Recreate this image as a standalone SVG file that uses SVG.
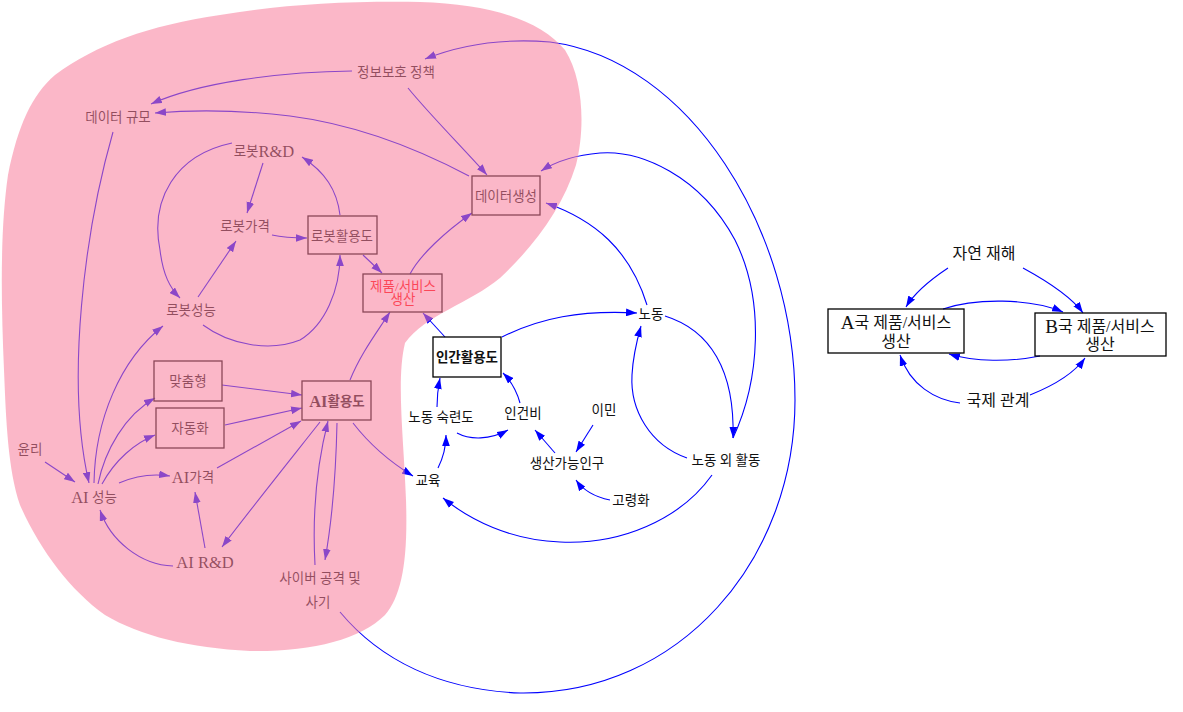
<svg xmlns="http://www.w3.org/2000/svg" width="1183" height="712" viewBox="0 0 1183 712">
<defs>
<style>
text{font-family:"Liberation Serif","Noto Sans CJK KR",serif;font-size:13.5px;fill:#111;text-anchor:middle;dominant-baseline:central}
.big{font-size:16px}
.bold{font-weight:bold}
.red{fill:#ff0000}
.lat{font-size:16.5px}
.latb{font-size:19px}
.box{fill:none;stroke:#000;stroke-width:1.3}
.c{fill:none;stroke:#0000ff;stroke-width:1.1}
</style>
<marker id="a" viewBox="0 0 10 7" refX="10" refY="3.5" markerWidth="11" markerHeight="8" markerUnits="userSpaceOnUse" orient="auto">
<path d="M0,0 L10,3.5 L0,7 z" fill="#0000ff"/>
</marker>
</defs>
<rect width="1183" height="712" fill="#fff"/>
<g id="connectors">
<path class="c" marker-end="url(#a)" d="M352,71 C280,72 200,82 151,104"/>
<path class="c" marker-end="url(#a)" d="M469,176 C420,150 360,125 290,116 C240,110 190,110 155,113"/>
<path class="c" marker-end="url(#a)" d="M408,88 C430,115 465,150 487,175"/>
<path class="c" marker-end="url(#a)" d="M340,612 C380,660 440,690 520,693 C680,695 795,560 795,400 C795,230 690,60 550,42 C500,38 460,45 425,59"/>
<path class="c" marker-end="url(#a)" d="M113,132 C85,230 65,380 89,483"/>
<path class="c" marker-end="url(#a)" d="M263,163 L247,213"/>
<path class="c" marker-end="url(#a)" d="M272,235 C285,238 295,238 307,238"/>
<path class="c" marker-end="url(#a)" d="M340,215 C337,190 325,172 302,157"/>
<path class="c" marker-end="url(#a)" d="M232,143 C175,155 150,200 160,250 C163,275 170,288 180,298"/>
<path class="c" marker-end="url(#a)" d="M198,297 L236,241"/>
<path class="c" marker-end="url(#a)" d="M203,325 C230,345 270,352 300,340 C325,325 340,290 340,255"/>
<path class="c" marker-end="url(#a)" d="M363,255 L382,273"/>
<path class="c" marker-end="url(#a)" d="M94,483 C95,420 120,360 163,326"/>
<path class="c" marker-end="url(#a)" d="M98,484 C105,450 125,415 155,398"/>
<path class="c" marker-end="url(#a)" d="M102,484 C115,460 135,443 155,435"/>
<path class="c" marker-end="url(#a)" d="M119,483 C135,476 150,473 170,476"/>
<path class="c" marker-end="url(#a)" d="M45,462 L75,482"/>
<path class="c" marker-end="url(#a)" d="M173,566 C140,565 110,540 100,510"/>
<path class="c" marker-end="url(#a)" d="M205,548 L195,492"/>
<path class="c" marker-end="url(#a)" d="M217,468 L301,421"/>
<path class="c" marker-end="url(#a)" d="M222,385 L302,395"/>
<path class="c" marker-end="url(#a)" d="M225,425 L302,408"/>
<path class="c" marker-end="url(#a)" d="M320,422 C290,460 250,510 222,547"/>
<path class="c" marker-end="url(#a)" d="M315,565 C312,510 318,460 328,421"/>
<path class="c" marker-end="url(#a)" d="M337,423 C336,470 333,515 325,560"/>
<path class="c" marker-end="url(#a)" d="M353,423 C370,445 390,462 413,476"/>
<path class="c" marker-end="url(#a)" d="M350,380 C360,355 375,335 390,312"/>
<path class="c" marker-end="url(#a)" d="M410,274 C420,255 445,232 472,213"/>
<path class="c" marker-end="url(#a)" d="M445,337 L423,313"/>
<path class="c" marker-end="url(#a)" d="M502,337 C540,318 580,310 637,313"/>
<path class="c" marker-end="url(#a)" d="M647,305 C630,250 595,220 546,203"/>
<path class="c" marker-end="url(#a)" d="M733,438 C760,380 765,300 735,240 C700,175 640,150 600,153 C575,155 555,162 541,171"/>
<path class="c" marker-end="url(#a)" d="M665,316 C710,330 735,370 733,438"/>
<path class="c" marker-end="url(#a)" d="M687,458 C650,445 630,410 632,375 C633,355 637,340 641,326"/>
<path class="c" marker-end="url(#a)" d="M712,475 C680,520 620,545 560,542 C510,540 470,520 443,498"/>
<path class="c" marker-end="url(#a)" d="M438,468 C443,458 446,448 446,435"/>
<path class="c" marker-end="url(#a)" d="M437,407 C437,397 438,388 440,378"/>
<path class="c" marker-end="url(#a)" d="M457,433 C470,440 490,440 508,430"/>
<path class="c" marker-end="url(#a)" d="M520,403 C517,392 512,382 503,373"/>
<path class="c" marker-end="url(#a)" d="M555,453 L535,430"/>
<path class="c" marker-end="url(#a)" d="M593,425 L576,452"/>
<path class="c" marker-end="url(#a)" d="M610,500 C595,497 583,490 576,480"/>
<path class="c" marker-end="url(#a)" d="M948,268 C930,280 915,292 906,307"/>
<path class="c" marker-end="url(#a)" d="M1023,268 C1045,280 1070,295 1083,313"/>
<path class="c" marker-end="url(#a)" d="M943,309 C975,298 1030,298 1063,312"/>
<path class="c" marker-end="url(#a)" d="M1040,356 C1010,362 975,362 949,354"/>
<path class="c" marker-end="url(#a)" d="M960,403 C935,400 910,385 900,355"/>
<path class="c" marker-end="url(#a)" d="M1030,395 C1055,385 1075,372 1085,358"/>
</g>
<g id="n-privacy"><text x="396" y="72">정보보호 정책</text></g>
<g id="n-datascale"><text x="118" y="117">데이터 규모</text></g>
<g id="n-robotrd"><text x="264" y="151">로봇<tspan class="lat">R&amp;D</tspan></text></g>
<g id="n-datagen"><rect class="box" x="472" y="176" width="68" height="39"/><text x="506" y="196">데이터생성</text></g>
<g id="n-robotprice"><text x="245" y="226">로봇가격</text></g>
<g id="n-robotuse"><rect class="box" x="308" y="216" width="69" height="38"/><text x="342" y="236">로봇활용도</text></g>
<g id="n-product"><rect class="box" x="363" y="274" width="79" height="38"/><text class="red" x="403" y="286">제품/서비스</text><text class="red" x="403" y="299">생산</text></g>
<g id="n-robotperf"><text x="191" y="310">로봇성능</text></g>
<g id="n-custom"><rect class="box" x="154" y="361" width="68" height="40"/><text x="188" y="381">맞춤형</text></g>
<g id="n-auto"><rect class="box" x="156" y="408" width="68" height="40"/><text x="190" y="428">자동화</text></g>
<g id="n-aiuse"><rect class="box" x="302" y="381" width="69" height="39"/><text class="bold" x="337" y="401"><tspan class="lat">AI</tspan>활용도</text></g>
<g id="n-humanuse"><rect class="box" x="433" y="337" width="68" height="40"/><text class="bold" x="467" y="357">인간활용도</text></g>
<g id="n-labor"><text x="651" y="314">노동</text></g>
<g id="n-skill"><text x="441" y="417">노동 숙련도</text></g>
<g id="n-laborcost"><text x="523" y="413">인건비</text></g>
<g id="n-immig"><text x="604" y="410">이민</text></g>
<g id="n-workpop"><text x="567" y="463">생산가능인구</text></g>
<g id="n-ethics"><text x="30" y="449">윤리</text></g>
<g id="n-aiperf"><text x="94" y="497"><tspan class="lat">AI</tspan> 성능</text></g>
<g id="n-aiprice"><text x="193" y="477"><tspan class="lat">AI</tspan>가격</text></g>
<g id="n-edu"><text x="428" y="480">교육</text></g>
<g id="n-aging"><text x="631" y="500">고령화</text></g>
<g id="n-nonlabor"><text x="726" y="460">노동 외 활동</text></g>
<g id="n-aird"><text x="205" y="562" class="lat">AI R&amp;D</text></g>
<g id="n-cyber"><text x="320" y="578">사이버 공격 및</text><text x="318" y="602">사기</text></g>
<g id="n-disaster"><text class="big" x="984" y="253">자연 재해</text></g>
<g id="n-countryA"><rect class="box" x="828" y="309" width="136" height="44"/><text class="big" x="896" y="322"><tspan class="latb">A</tspan>국 제품/서비스</text><text class="big" x="896" y="341">생산</text></g>
<g id="n-countryB"><rect class="box" x="1035" y="313" width="131" height="43"/><text class="big" x="1100" y="326"><tspan class="latb">B</tspan>국 제품/서비스</text><text class="big" x="1100" y="344">생산</text></g>
<g id="n-intl"><text class="big" x="998" y="400">국제 관계</text></g>
<g id="highlight">
<path fill="#f87f9d" fill-opacity="0.56" d="M55,75 C95,45 150,25 220,15 C280,5 340,1 420,2 C490,4 540,20 565,50 C584,80 585,130 576,165 C562,210 532,248 500,278 C470,303 425,315 405,343 C396,380 404,440 406,500 C408,560 402,595 385,615 C360,640 310,652 250,651 C190,648 140,636 105,615 C70,590 40,550 20,505 C8,470 6,420 4,370 C1,300 0,230 8,175 C18,125 32,95 55,75 Z"/>
</g>
</svg>
